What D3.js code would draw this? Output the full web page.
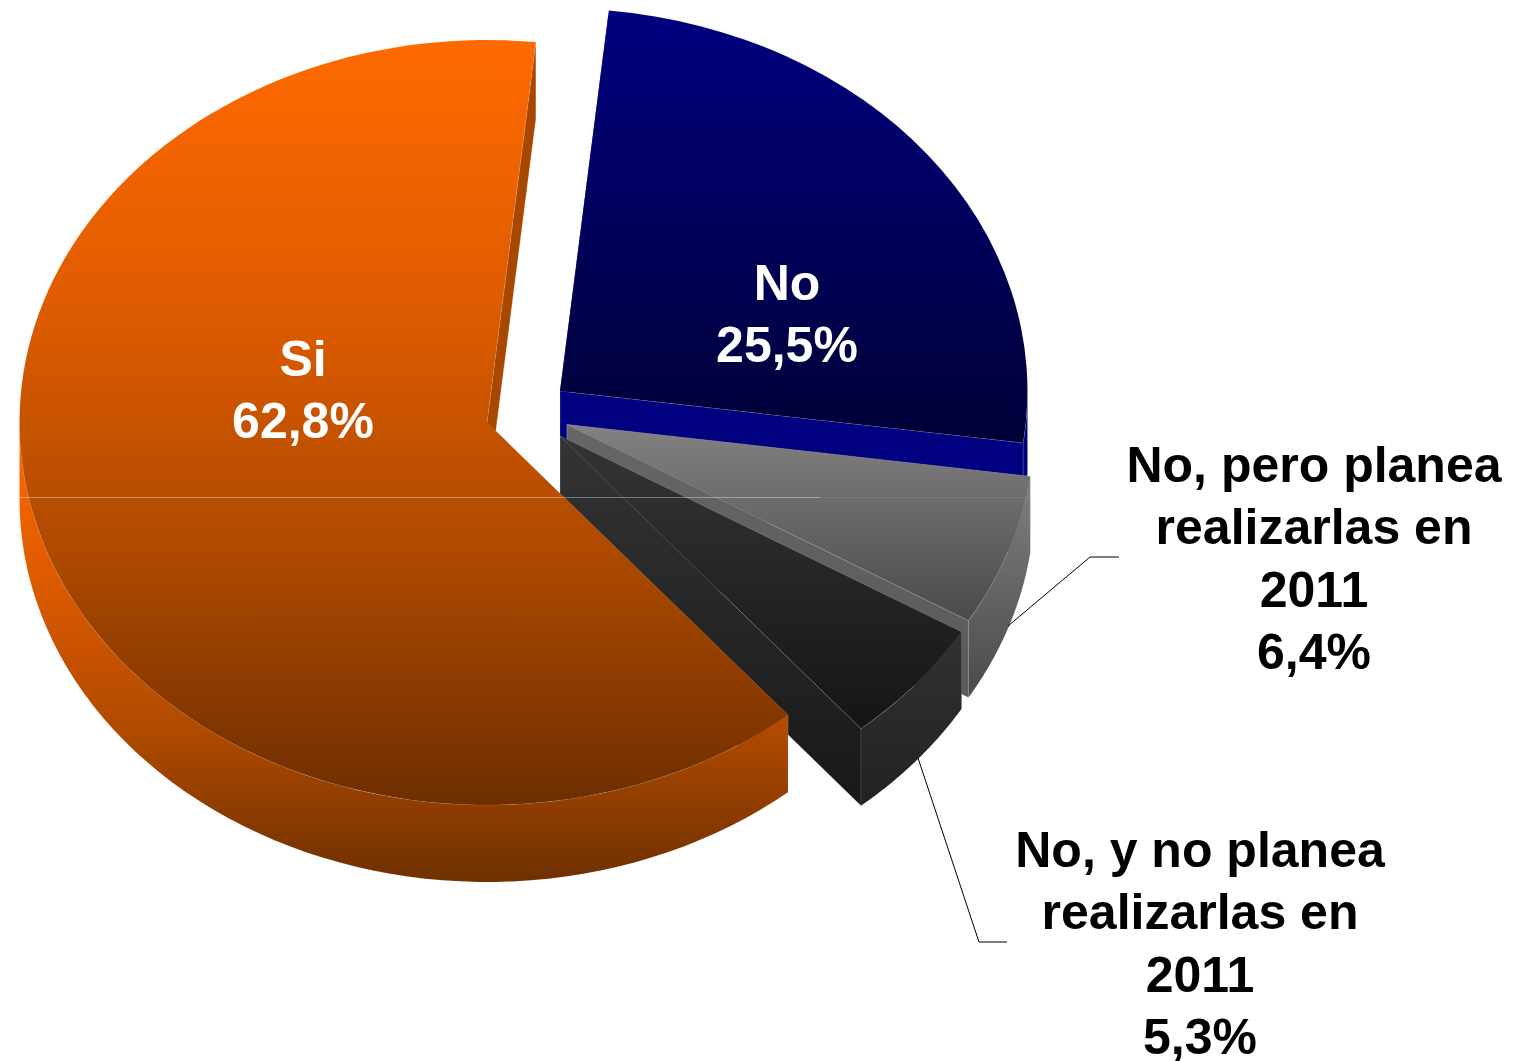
<!DOCTYPE html>
<html>
<head>
<meta charset="utf-8">
<script src="https://cdn.jsdelivr.net/npm/d3@7"></script>
<style>
  html, body { margin: 0; padding: 0; background: #fff; }
  text { font-family: "Liberation Sans", Arial, sans-serif; font-weight: bold; font-size: 50px; text-anchor: middle; }
</style>
</head>
<body>
<div id="chart"></div>
<script>
// values
var categories = ["No", "No, pero planea realizarlas en 2011", "No, y no planea realizarlas en 2011", "Si"];
var values = [25.5, 6.4, 5.3, 62.8];
var valueLabels = ["25,5%", "6,4%", "5,3%", "62,8%"];
var labelLines = [["No"], ["No, pero planea", "realizarlas en", "2011"], ["No, y no planea", "realizarlas en", "2011"], ["Si"]];

var width = 1517, height = 1061;
var rx = 467.5, ry = 382.5, depth = 77;
var firstAngle = 6 * Math.PI / 180;

// where each exploded slice sits, same order as the values
var centers = [[560, 391], [567, 424.5], [560, 436], [487, 422.5]];
var labelPos = [[787, 299.5, "#fff"], [1314, 482, "#000"], [1200, 867, "#000"], [303, 375.5, "#fff"]];
var lineGap = 62.3;

// top colours, outer wall colours, cut wall colours
var topColors = [["#000080", "#000036"], ["#828282", "#4a4a4a"], ["#353535", "#151515"], ["#ff6a00", "#e05c00", "#ae4a00", "#6e2e00"]];
var wallColors = [["#000080", "#00006c"], ["#808080", "#4a4a4a"], ["#313131", "#222222"], ["#ff6a00", "#de5b00", "#b04a00", "#6e3000"]];
var cutColors = [["#000080", "#000080"], ["#666666", "#5a5a5a"], ["#343434", "#181818"], ["#a84800", "#a84800"]];

var svg = d3.select("#chart").append("svg")
    .attr("width", width)
    .attr("height", height)
    .style("display", "block");

var defs = svg.append("defs");

function addGradient(id, colors) {
  var g = defs.append("linearGradient").attr("id", id)
    .attr("x1", 0).attr("y1", 0).attr("x2", 0).attr("y2", 1);
  colors.forEach(function(c, i) {
    g.append("stop").attr("offset", i / (colors.length - 1)).attr("stop-color", c);
  });
}

topColors.forEach(function(c, i) { addGradient("top" + i, c); });
wallColors.forEach(function(c, i) { addGradient("wall" + i, c); });
cutColors.forEach(function(c, i) { addGradient("cut" + i, c); });

var pie = d3.pie().sort(null)
  .startAngle(firstAngle)
  .endAngle(firstAngle + 2 * Math.PI);

var arcs = pie(values);

var arc = d3.arc().innerRadius(0).outerRadius(rx);
var line = d3.line();

// screen position of an angle on the rim of slice i
function rim(i, a) {
  return [centers[i][0] + rx * Math.sin(a), centers[i][1] - ry * Math.cos(a)];
}

function cutWall(i, a) {
  var p = rim(i, a), c = centers[i];
  return line([c, p, [p[0], p[1] + depth], [c[0], c[1] + depth]]) + "Z";
}

function outerWall(i, a0, a1) {
  var from = Math.max(a0, Math.PI / 2), to = Math.min(a1, 3 * Math.PI / 2);
  if (to <= from) return null;
  var angles = d3.range(0, 61).map(function(k) { return from + (to - from) * k / 60; });
  var upper = angles.map(function(a) { return rim(i, a); });
  var lower = upper.slice().reverse().map(function(p) { return [p[0], p[1] + depth]; });
  return line(upper.concat(lower)) + "Z";
}

// slices back to front
arcs.forEach(function(d, i) {
  var g = svg.append("g").attr("class", "slice");

  [d.startAngle, d.endAngle].forEach(function(a) {
    g.append("path")
      .attr("d", cutWall(i, a))
      .attr("fill", "url(#cut" + i + ")")
      .attr("stroke", "#fff")
      .attr("stroke-opacity", 0.2);
  });

  var w = outerWall(i, d.startAngle, d.endAngle);
  if (w) {
    g.append("path")
      .attr("d", w)
      .attr("fill", "url(#wall" + i + ")")
      .attr("stroke", "#fff")
      .attr("stroke-opacity", 0.06);
  }

  g.append("path")
    .attr("transform", "translate(" + centers[i][0] + "," + centers[i][1] + ") scale(1," + (ry / rx) + ")")
    .attr("d", arc(d))
    .attr("fill", "url(#top" + i + ")")
    .attr("stroke", "#fff")
    .attr("stroke-opacity", 0.06)
    .attr("vector-effect", "non-scaling-stroke");
});

// thin light seam across the pie, nearly gone over the grey slice
svg.append("line")
  .attr("x1", 19).attr("x2", 820)
  .attr("y1", 497.5).attr("y2", 497.5)
  .attr("stroke", "#fff")
  .attr("stroke-opacity", 0.35);
svg.append("line")
  .attr("x1", 820).attr("x2", 1030)
  .attr("y1", 497.5).attr("y2", 497.5)
  .attr("stroke", "#fff")
  .attr("stroke-opacity", 0.08);

// leader lines
var leaders = [
  [[1008, 626], [1090, 557], [1119, 557]],
  [[918, 758], [979, 942], [1007, 942]]
];
leaders.forEach(function(l) {
  svg.append("path")
    .attr("d", line(l))
    .attr("fill", "none")
    .attr("stroke", "#000")
    .attr("stroke-width", 1);
});

// labels
labelLines.forEach(function(lines, i) {
  var p = labelPos[i];
  lines.concat([valueLabels[i]]).forEach(function(t, k) {
    svg.append("text")
      .attr("x", p[0])
      .attr("y", p[1] + k * lineGap)
      .attr("fill", p[2])
      .text(t);
  });
});
</script>
</body>
</html>
